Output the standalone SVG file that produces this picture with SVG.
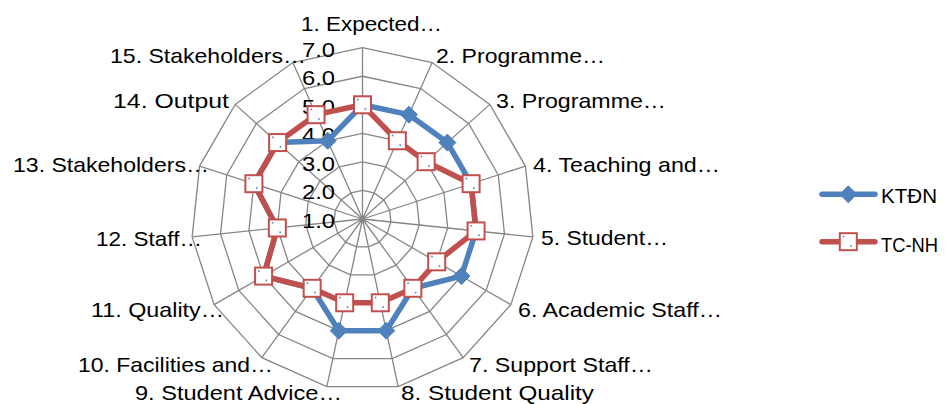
<svg xmlns="http://www.w3.org/2000/svg" xmlns:xlink="http://www.w3.org/1999/xlink" width="950" height="404" viewBox="0 0 950 404">
<style>
.grid{fill:none;stroke:#868686;stroke-width:1.3}
.lbl{font-family:"Liberation Sans",Arial,sans-serif;font-size:21px;fill:#000}
.tick{font-family:"Liberation Sans",Arial,sans-serif;font-size:21px;fill:#000;text-anchor:end}
.sblue{fill:none;stroke:#4F81BD;stroke-width:5.5;stroke-linejoin:round;stroke-linecap:round}
.sred{fill:none;stroke:#C0504D;stroke-width:5.5;stroke-linejoin:round;stroke-linecap:round}
</style>
<defs>
<g id="dia"><polygon points="0,-8.5 8.5,0 0,8.5 -8.5,0" fill="#4F81BD" stroke="#4F81BD" stroke-width="1"/></g>
<g id="sq"><rect x="-8.5" y="-8.5" width="17" height="17" fill="#fff" stroke="#C0504D" stroke-width="2"/><rect x="-5.5" y="-6" width="1.6" height="1.6" fill="#4F81BD"/><rect x="2" y="3.5" width="1.6" height="1.6" fill="#4F81BD"/></g>
</defs>
<rect width="950" height="404" fill="#fff"/>
<g id="grid">
<polygon class="grid" points="362.5,190.45 374.11,192.92 383.72,199.9 389.65,210.18 390.89,221.98 387.23,233.28 379.28,242.1 368.44,246.93 356.56,246.93 345.72,242.1 337.77,233.28 334.11,221.98 335.35,210.18 341.28,199.9 350.89,192.92"/>
<polygon class="grid" points="362.5,161.9 385.72,166.84 404.93,180.79 416.81,201.35 419.29,224.97 411.95,247.55 396.06,265.2 374.37,274.85 350.63,274.85 328.94,265.2 313.05,247.55 305.71,224.97 308.19,201.35 320.07,180.79 339.28,166.84"/>
<polygon class="grid" points="362.5,133.35 397.34,140.75 426.15,161.69 443.96,192.53 447.68,227.95 436.68,261.83 412.84,288.29 380.31,302.78 344.69,302.78 312.16,288.29 288.32,261.83 277.32,227.95 281.04,192.53 298.85,161.69 327.66,140.75"/>
<polygon class="grid" points="362.5,104.8 408.95,114.67 447.37,142.58 471.11,183.71 476.07,230.94 461.4,276.1 429.63,311.39 386.24,330.7 338.76,330.7 295.37,311.39 263.6,276.1 248.93,230.94 253.89,183.71 277.63,142.58 316.05,114.67"/>
<polygon class="grid" points="362.5,76.25 420.56,88.59 468.58,123.48 498.26,174.89 504.47,233.92 486.13,290.38 446.41,334.49 392.18,358.63 332.82,358.63 278.59,334.49 238.87,290.38 220.53,233.92 226.74,174.89 256.42,123.48 304.44,88.59"/>
<polygon class="grid" points="362.5,47.7 432.17,62.51 489.8,104.38 525.42,166.06 532.86,236.91 510.85,304.65 463.19,357.59 398.12,386.56 326.88,386.56 261.81,357.59 214.15,304.65 192.14,236.91 199.58,166.06 235.2,104.38 292.83,62.51"/>
<path class="grid" d="M362.5,219L362.5,47.7M362.5,219L432.17,62.51M362.5,219L489.8,104.38M362.5,219L525.42,166.06M362.5,219L532.86,236.91M362.5,219L510.85,304.65M362.5,219L463.19,357.59M362.5,219L398.12,386.56M362.5,219L326.88,386.56M362.5,219L261.81,357.59M362.5,219L214.15,304.65M362.5,219L192.14,236.91M362.5,219L199.58,166.06M362.5,219L235.2,104.38M362.5,219L292.83,62.51"/>
</g>
<g id="ticks">
<text class="tick" x="335" y="228" textLength="33" lengthAdjust="spacingAndGlyphs">1.0</text>
<text class="tick" x="335" y="199.4" textLength="33" lengthAdjust="spacingAndGlyphs">2.0</text>
<text class="tick" x="335" y="170.9" textLength="33" lengthAdjust="spacingAndGlyphs">3.0</text>
<text class="tick" x="335" y="142.3" textLength="33" lengthAdjust="spacingAndGlyphs">4.0</text>
<text class="tick" x="335" y="113.8" textLength="33" lengthAdjust="spacingAndGlyphs">5.0</text>
<text class="tick" x="335" y="85.2" textLength="33" lengthAdjust="spacingAndGlyphs">6.0</text>
<text class="tick" x="335" y="56.7" textLength="33" lengthAdjust="spacingAndGlyphs">7.0</text>
</g>
<g id="series-ktdn">
<polygon class="sblue" points="362.5,104.8 408.95,114.67 447.37,142.58 471.11,183.71 476.07,230.94 461.4,276.1 412.84,288.29 386.24,330.7 338.76,330.7 312.16,288.29 263.6,276.1 277.32,227.95 253.89,183.71 277.63,142.58 327.66,140.75"/>
<use xlink:href="#dia" x="362.5" y="104.8"/><use xlink:href="#dia" x="408.95" y="114.67"/><use xlink:href="#dia" x="447.37" y="142.58"/><use xlink:href="#dia" x="471.11" y="183.71"/><use xlink:href="#dia" x="476.07" y="230.94"/><use xlink:href="#dia" x="461.4" y="276.1"/><use xlink:href="#dia" x="412.84" y="288.29"/><use xlink:href="#dia" x="386.24" y="330.7"/><use xlink:href="#dia" x="338.76" y="330.7"/><use xlink:href="#dia" x="312.16" y="288.29"/><use xlink:href="#dia" x="263.6" y="276.1"/><use xlink:href="#dia" x="277.32" y="227.95"/><use xlink:href="#dia" x="253.89" y="183.71"/><use xlink:href="#dia" x="277.63" y="142.58"/><use xlink:href="#dia" x="327.66" y="140.75"/>
</g>
<g id="series-tcnh">
<polygon class="sred" points="362.5,104.8 397.34,140.75 426.15,161.69 471.11,183.71 476.07,230.94 436.68,261.83 412.84,288.29 380.31,302.78 344.69,302.78 312.16,288.29 263.6,276.1 277.32,227.95 253.89,183.71 277.63,142.58 316.05,114.67"/>
<use xlink:href="#sq" x="362.5" y="104.8"/><use xlink:href="#sq" x="397.34" y="140.75"/><use xlink:href="#sq" x="426.15" y="161.69"/><use xlink:href="#sq" x="471.11" y="183.71"/><use xlink:href="#sq" x="476.07" y="230.94"/><use xlink:href="#sq" x="436.68" y="261.83"/><use xlink:href="#sq" x="412.84" y="288.29"/><use xlink:href="#sq" x="380.31" y="302.78"/><use xlink:href="#sq" x="344.69" y="302.78"/><use xlink:href="#sq" x="312.16" y="288.29"/><use xlink:href="#sq" x="263.6" y="276.1"/><use xlink:href="#sq" x="277.32" y="227.95"/><use xlink:href="#sq" x="253.89" y="183.71"/><use xlink:href="#sq" x="277.63" y="142.58"/><use xlink:href="#sq" x="316.05" y="114.67"/>
</g>
<g id="categories">
<text class="lbl" x="301" y="31" textLength="141" lengthAdjust="spacingAndGlyphs">1. Expected…</text>
<text class="lbl" x="436" y="63" textLength="169" lengthAdjust="spacingAndGlyphs">2. Programme…</text>
<text class="lbl" x="496" y="108" textLength="170" lengthAdjust="spacingAndGlyphs">3. Programme…</text>
<text class="lbl" x="533" y="172" textLength="187" lengthAdjust="spacingAndGlyphs">4. Teaching and…</text>
<text class="lbl" x="541" y="245" textLength="127" lengthAdjust="spacingAndGlyphs">5. Student…</text>
<text class="lbl" x="518" y="317" textLength="204" lengthAdjust="spacingAndGlyphs">6. Academic Staff…</text>
<text class="lbl" x="469" y="372" textLength="184" lengthAdjust="spacingAndGlyphs">7. Support Staff…</text>
<text class="lbl" x="401" y="400" textLength="193" lengthAdjust="spacingAndGlyphs">8. Student Quality</text>
<text class="lbl" x="135" y="400" textLength="207" lengthAdjust="spacingAndGlyphs">9. Student Advice…</text>
<text class="lbl" x="78" y="372" textLength="195" lengthAdjust="spacingAndGlyphs">10. Facilities and…</text>
<text class="lbl" x="91" y="317" textLength="133" lengthAdjust="spacingAndGlyphs">11. Quality…</text>
<text class="lbl" x="96" y="246" textLength="106" lengthAdjust="spacingAndGlyphs">12. Staff…</text>
<text class="lbl" x="13" y="172" textLength="196" lengthAdjust="spacingAndGlyphs">13. Stakeholders…</text>
<text class="lbl" x="113" y="108" textLength="116" lengthAdjust="spacingAndGlyphs">14. Output</text>
<text class="lbl" x="110" y="63" textLength="196" lengthAdjust="spacingAndGlyphs">15. Stakeholders…</text>
</g>
<g id="legend">
<g id="legend-ktdn">
<line class="sblue" x1="822" y1="194.3" x2="875" y2="194.3"/>
<use xlink:href="#dia" x="848.3" y="194.3"/>
<text class="lbl" x="881" y="203" textLength="56" lengthAdjust="spacingAndGlyphs">KTĐN</text>
</g>
<g id="legend-tcnh">
<line class="sred" x1="822" y1="241.7" x2="875" y2="241.7"/>
<use xlink:href="#sq" x="848.3" y="241.7"/>
<text class="lbl" x="881" y="252" textLength="57" lengthAdjust="spacingAndGlyphs">TC-NH</text>
</g>
</g>
</svg>
